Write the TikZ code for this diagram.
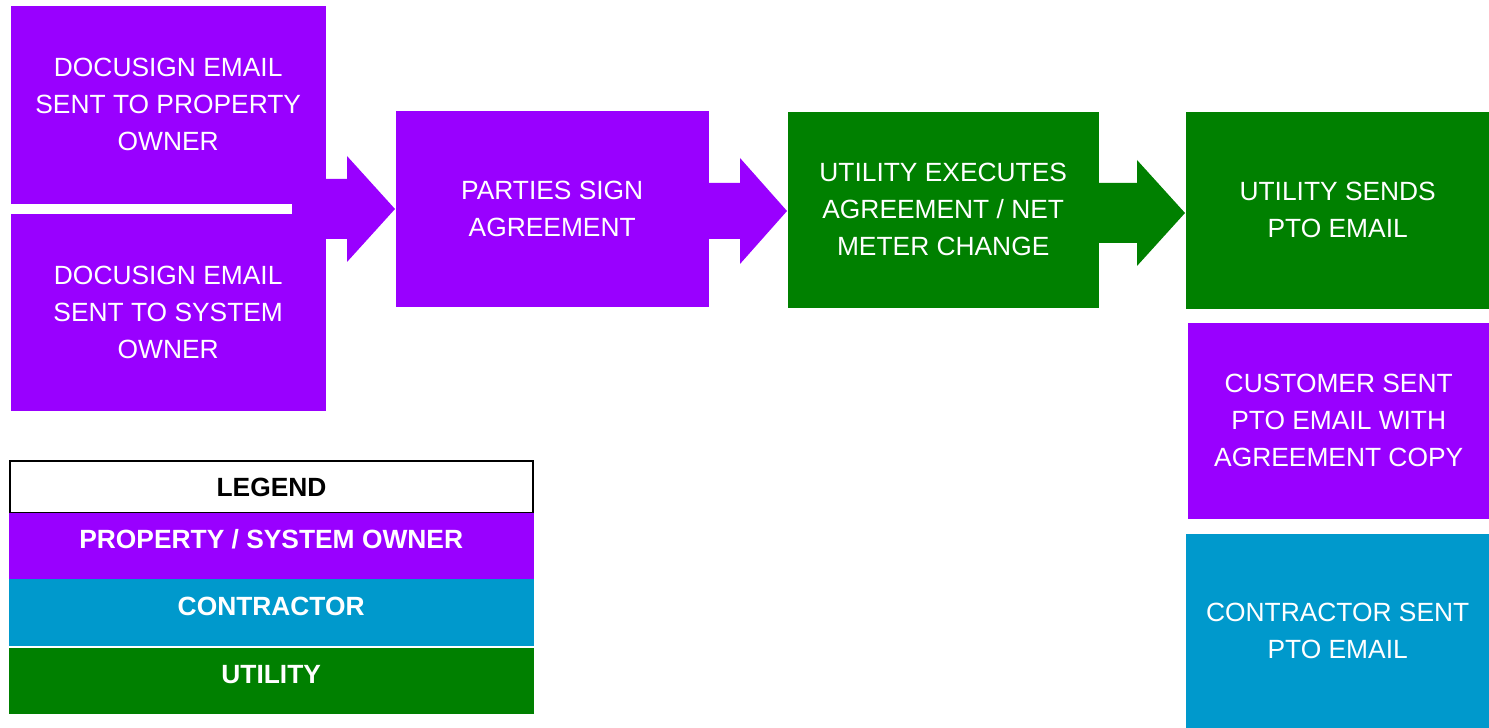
\documentclass[tikz,border=0pt]{standalone}
\usepackage{fontspec}
\setmainfont{Liberation Sans}
\definecolor{purp}{RGB}{153,0,255}
\definecolor{utilgreen}{RGB}{0,128,0}
\definecolor{contblue}{RGB}{0,153,204}

\begin{document}
\begin{tikzpicture}
\tikzset{stepbox/.style={anchor=north west, inner sep=0, text=white, align=center,
    font=\fontsize{7.5pt}{10.5pt}\selectfont},
  legrow/.style={anchor=north west, inner sep=0, minimum width=5.25cm, minimum height=0.66cm,
    text height=0.19cm, text depth=0.14cm, font=\fontsize{7.5pt}{9pt}\selectfont\bfseries}}
\useasboundingbox (0,0) rectangle (14.89,-7.28);
% process boxes
\node[stepbox, fill=purp, minimum width=3.15cm, minimum height=1.98cm] (own) at (0.10,-0.05)
  {DOCUSIGN EMAIL\\SENT TO PROPERTY\\OWNER};
\node[stepbox, fill=purp, minimum width=3.15cm, minimum height=1.97cm] (sys) at (0.10,-2.13)
  {DOCUSIGN EMAIL\\SENT TO SYSTEM\\OWNER};
\node[stepbox, fill=purp, minimum width=3.13cm, minimum height=1.96cm] (sign) at (3.95,-1.10)
  {PARTIES SIGN\\AGREEMENT};
\node[stepbox, fill=utilgreen, minimum width=3.11cm, minimum height=1.96cm] (exec) at (7.87,-1.11)
  {UTILITY EXECUTES\\AGREEMENT / NET\\METER CHANGE};
\node[stepbox, fill=utilgreen, minimum width=3.04cm, minimum height=1.97cm] (pto) at (11.85,-1.11)
  {UTILITY SENDS\\PTO EMAIL};
\node[stepbox, fill=purp, minimum width=3.02cm, minimum height=1.96cm] (cust) at (11.87,-3.22)
  {CUSTOMER SENT\\PTO EMAIL WITH\\AGREEMENT COPY};
\node[stepbox, fill=contblue, minimum width=3.04cm, minimum height=1.95cm] (cont) at (11.85,-5.33)
  {CONTRACTOR SENT\\PTO EMAIL};
% block arrows
\coordinate (a1) at (2.92,-2.09);
\coordinate (t1) at (a1 -| sign.west);
\coordinate (a2) at (7.08,-2.11);
\coordinate (t2) at (a2 -| exec.west);
\coordinate (a3) at (10.98,-2.13);
\coordinate (t3) at (a3 -| pto.west);
\fill[purp] ([yshift=3mm]a1) -| ([shift={(-4.8mm,5.3mm)}]t1) -- (t1)
  -- ([shift={(-4.8mm,-5.3mm)}]t1) |- ([yshift=-3mm]a1) -- cycle;
\fill[purp] ([yshift=2.8mm]a2) -| ([shift={(-4.7mm,5.3mm)}]t2) -- (t2)
  -- ([shift={(-4.7mm,-5.3mm)}]t2) |- ([yshift=-2.8mm]a2) -- cycle;
\fill[utilgreen] ([yshift=3mm]a3) -| ([shift={(-4.8mm,5.3mm)}]t3) -- (t3)
  -- ([shift={(-4.8mm,-5.3mm)}]t3) |- ([yshift=-3mm]a3) -- cycle;
% legend
\node[legrow, draw=black, line width=0.6pt, fill=white, minimum width=5.23cm, minimum height=0.52cm,
  text depth=0cm] (leg) at (0.09,-4.60) {LEGEND};
\node[legrow, fill=purp, text=white] (legown) at (0.08,-5.12) {PROPERTY / SYSTEM OWNER};
\node[legrow, fill=contblue, text=white, minimum height=0.67cm, text depth=0.12cm] (legcont) at (0.08,-5.78) {CONTRACTOR};
\node[legrow, fill=utilgreen, text=white] (legutil) at (0.08,-6.47) {UTILITY};
\end{tikzpicture}
\end{document}
